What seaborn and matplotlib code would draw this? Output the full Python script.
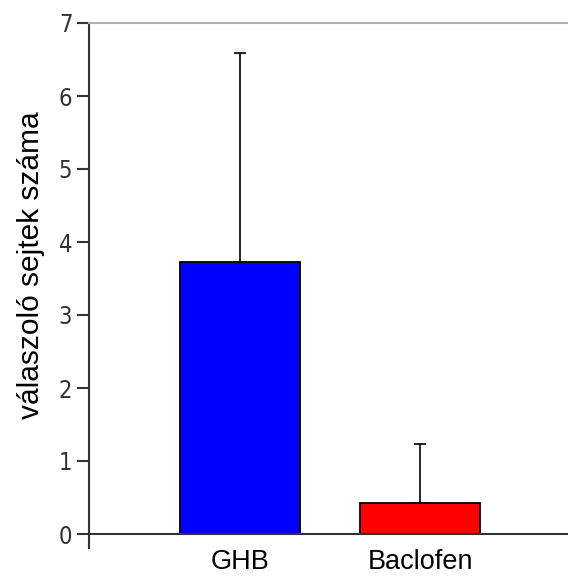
import matplotlib
matplotlib.use("Agg")
import matplotlib.pyplot as plt
import seaborn as sns
import pandas as pd

categories = ["GHB", "Baclofen"]
means = [3.73, 0.42]
errors_up = [2.86, 0.81]
colors = ["#0000ff", "#ff0000"]
yticks = [0, 1, 2, 3, 4, 5, 6, 7]
ylabel = "válaszoló sejtek száma"

sns.set_theme(style="white")
plt.rcParams['font.family'] = ['Liberation Sans', 'DejaVu Sans']

df = pd.DataFrame({"cat": categories, "val": means})

fig = plt.figure(figsize=(5.68, 5.77), dpi=100)
ax = fig.add_axes([89/568, (577-548)/577, 1 - 89/568, (548-23)/577])
y0 = -14/73

sns.barplot(data=df, x="cat", y="val", hue="cat", palette=colors, legend=False,
            saturation=1, width=0.667, edgecolor="black", linewidth=1.3, ax=ax,
            errorbar=None)
ax.errorbar(x=range(len(categories)), y=means, yerr=[[0]*len(means), errors_up],
            fmt="none", ecolor="black", elinewidth=1.2, capsize=4.5, capthick=1.2)

ax.set_ylim(y0, 7)
ax.set_xlim(-0.839, -0.839 + 479/180)
ax.set_yticks(yticks)
ax.set_yticklabels([str(t) for t in yticks],
                   family=["Liberation Sans Narrow", "DejaVu Sans"],
                   fontstretch="condensed", fontsize=17, color="#333333")
ax.axhline(0, color="#333333", linewidth=1.5, zorder=5)
for s in ["right", "bottom"]:
    ax.spines[s].set_visible(False)
ax.spines["left"].set_color("#333333")
ax.spines["left"].set_linewidth(1.5)
ax.spines["top"].set_color("#b0b0b0")
ax.spines["top"].set_linewidth(1.5)
ax.tick_params(axis="y", left=True, length=9, width=1.5, color="#333333", pad=3)
ax.tick_params(axis="x", bottom=False, length=0, pad=1, labelsize=19.5, labelcolor="black")
ax.set_xlabel("")
ax.set_ylabel(ylabel, fontsize=21.5, color="black")
ax.yaxis.set_label_coords((45 - 89) / 479, (548 - 265) / 525)

fig.savefig("out.png", dpi=100)
